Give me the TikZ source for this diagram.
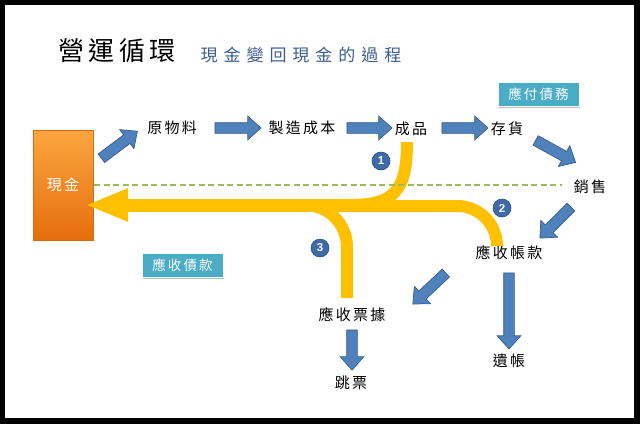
\documentclass[tikz,border=0pt]{standalone}
\usepackage{fontspec}
\newfontfamily\cjk[LetterSpace=15]{Noto Sans CJK TC}
\newfontfamily\cjktitle[LetterSpace=17]{Noto Sans CJK TC}
\newfontfamily\cjksub[LetterSpace=35]{Noto Sans CJK TC}
\newfontfamily\numfont{Liberation Sans}
\usetikzlibrary{shapes.arrows,calc,arrows.meta,shadows}

\definecolor{arrowblue}{HTML}{4F81BD}
\definecolor{arrowedge}{HTML}{385D8A}
\definecolor{flowgold}{HTML}{FFC000}
\definecolor{tealbox}{HTML}{4BACC6}
\definecolor{dashgreen}{HTML}{9BBB59}
\definecolor{subblue}{HTML}{3A5F8F}
\definecolor{cashtop}{HTML}{FBA640}
\definecolor{cashbot}{HTML}{E56E0C}
\definecolor{cashedge}{HTML}{D46A12}
\definecolor{numblue}{HTML}{3D6AA8}
\definecolor{numedge}{HTML}{2C4F80}

\tikzset{
  label/.style={font=\cjk\fontsize{15}{15}\selectfont, text=black, inner sep=0pt},
  tagbox/.style={rectangle, fill=tealbox, draw=white, line width=0.8pt,
    minimum width=81pt, minimum height=24pt, inner sep=0pt, text=white,
    font=\cjk\fontsize{13.5}{13.5}\selectfont,
    drop shadow={shadow xshift=1.2pt, shadow yshift=-1.8pt, opacity=0.5, fill=gray}},
  blockarrow/.style={single arrow, draw=arrowedge, fill=arrowblue, line width=0.7pt,
    inner xsep=0pt, inner ysep=5pt, single arrow head extend=6.5pt,
    single arrow tip angle=84},
  flow/.style={draw=flowgold, line width=12pt},
  numdot/.style={circle, fill=numblue, draw=numedge, line width=0.6pt, inner sep=0pt,
    minimum size=18pt, text=white, font=\numfont\bfseries\fontsize{11.5}{11.5}\selectfont},
  divider/.style={draw=dashgreen, line width=1.6pt, dash pattern=on 6pt off 3.5pt}
}

% block arrow between two named points
\newcommand\blockarrow[2]{%
  \path let \p1=($(#2)-(#1)$), \n1={atan2(\y1,\x1)}, \n2={veclen(\x1,\y1)} in
    node[blockarrow, rotate=\n1, minimum height=\n2] at ($(#1)!0.5!(#2)$) {};}

\begin{document}
\begin{tikzpicture}[x=1pt, y=-1pt]
  \useasboundingbox (0,0) rectangle (640,424);
  % frame
  \fill[black] (0,0) rectangle (640,424);
  \fill[white] (5,5) rectangle (634,418);

  % headings
  \node[font=\cjktitle\fontsize{26}{26}\selectfont, inner sep=0pt] (title) at (117,51) {營運循環};
  \node[font=\cjksub\fontsize{17}{17}\selectfont, text=subblue, inner sep=0pt] (subtitle) at (301,55) {現金變回現金的過程};

  % cash box
  \node[rectangle, top color=cashtop, bottom color=cashbot, draw=cashedge, line width=0.6pt,
        minimum width=60pt, minimum height=110pt, text=white,
        font=\cjk\fontsize{15}{15}\selectfont] (cash) at (63,185) {現金};

  % labelled boxes
  \node[tagbox] (payable) at (538.5,94.5) {應付債務};
  \node[tagbox] (receivable) at (182.5,265) {應收債款};

  % stages
  \node[label] (raw) at (172,128) {原物料};
  \node[label] (mfg) at (302,128) {製造成本};
  \node[label] (goods) at (411,129) {成品};
  \node[label] (stock) at (507,129) {存貨};
  \node[label] (sales) at (590,187) {銷售};
  \node[label] (ar) at (509,253) {應收帳款};
  \node[label] (notes) at (352,315) {應收票據};
  \node[label] (bounce) at (351,383) {跳票};
  \node[label] (baddebt) at (509,361) {遺帳};

  % cash returning flows
  \coordinate (join) at (374,205);
  \coordinate (cashin) at (85,205);
  \coordinate (goodsfoot) at (407,142);
  \coordinate (arfoot) at (497,244);
  \coordinate (notesfoot) at (347,298);
  \draw[flow] (goodsfoot) .. controls (407,190) and (395,205) .. (350,205);
  \draw[flow, rounded corners=40pt] (355,206) -- (497,206) -- (arfoot);
  \draw[flow, rounded corners=42pt] (290,205) -- (347,205) -- (notesfoot);
  \draw[flow, line width=13pt, -{Triangle[length=43pt,width=30pt]}] (join) -- (cashin);

  % divider
  \coordinate (divL) at (94,185);
  \coordinate (divR) at (562,185);
  \draw[divider] (divL) -- (divR);

  % step markers
  \node[numdot] (n1) at (381,161) {1};
  \node[numdot] (n2) at (502,208) {2};
  \node[numdot] (n3) at (320,248) {3};

  % block arrows
  \coordinate (a1s) at (99,160);  \coordinate (a1e) at (135,133);
  \coordinate (a2s) at (212,128); \coordinate (a2e) at (258,128);
  \coordinate (a3s) at (344,128); \coordinate (a3e) at (389,128);
  \coordinate (a4s) at (439,128); \coordinate (a4e) at (485,128);
  \coordinate (a5s) at (533,139); \coordinate (a5e) at (573,161);
  \coordinate (a6s) at (573,205); \coordinate (a6e) at (542,236);
  \coordinate (a7s) at (448,271); \coordinate (a7e) at (415,302);
  \coordinate (a8s) at (509,270); \coordinate (a8e) at (509,346);
  \coordinate (a9s) at (352,327); \coordinate (a9e) at (352,367);
  \blockarrow{a1s}{a1e}
  \blockarrow{a2s}{a2e}
  \blockarrow{a3s}{a3e}
  \blockarrow{a4s}{a4e}
  \blockarrow{a5s}{a5e}
  \blockarrow{a6s}{a6e}
  \blockarrow{a7s}{a7e}
  \blockarrow{a8s}{a8e}
  \blockarrow{a9s}{a9e}
\end{tikzpicture}
\end{document}
